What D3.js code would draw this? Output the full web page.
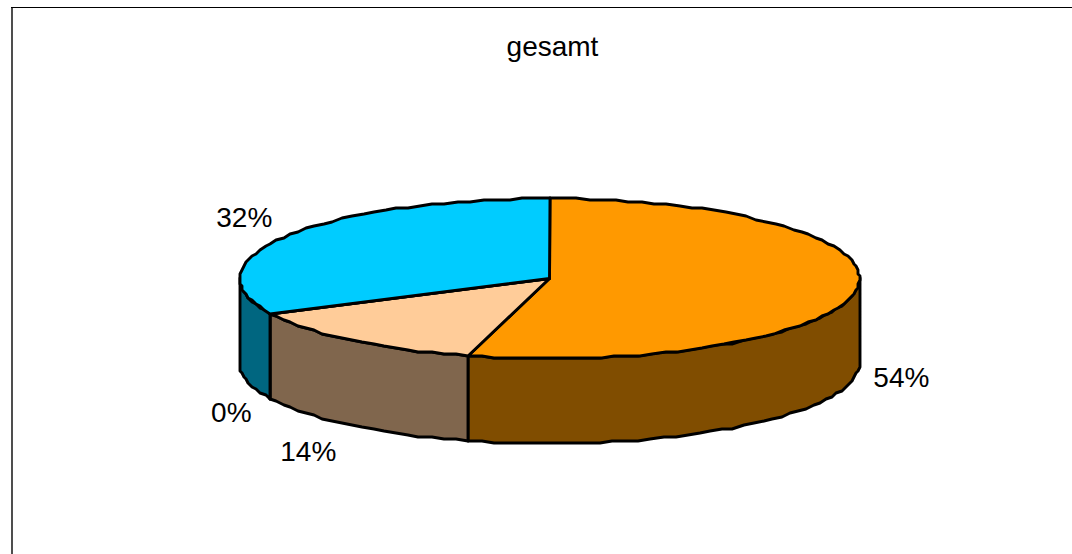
<!DOCTYPE html>
<html>
<head>
<meta charset="utf-8">
<script src="https://cdn.jsdelivr.net/npm/d3@7"></script>
<style>
  html, body { margin: 0; padding: 0; background: #fff; }
  svg { display: block; }
  text { font-family: "Liberation Sans", Arial, sans-serif; fill: #000; }
</style>
</head>
<body>
<svg id="chart" width="1072" height="554"></svg>
<script>
const title = "gesamt";
const categories = ["A", "B", "C", "D"];
const values = [54.2, 13.6, 0.04, 32.16];
const labels = ["54%", "14%", "0%", "32%"];
const colors = ["#FF9900", "#FFCC99", "#FFFFCC", "#00CCFF"];
// small hand nudges for the data labels (px)
const labelNudge = [[-3, -1], [-13, 0], [4, -1], [-2, 0]];

const WIDTH = 1072, HEIGHT = 554;
const CX = 549.5, CY = 278.5, RX = 310, RY = 80, DEPTH = 85;
const STEP = (2.5 * Math.PI) / 180;
const FONT_SIZE = 28;

const svg = d3.select("#chart");

// Chart frame: only top and left are inside the window
svg.append("line")
  .attr("x1", 12).attr("x2", 12).attr("y1", 7).attr("y2", HEIGHT)
  .attr("stroke", "#222").attr("stroke-width", 1.6);
svg.append("line")
  .attr("x1", 11).attr("x2", WIDTH).attr("y1", 7.5).attr("y2", 7.5)
  .attr("stroke", "#000").attr("stroke-width", 1);

// Unit circle -> flattened ellipse
const x = d3.scaleLinear().domain([-1, 1]).range([CX - RX, CX + RX]);
const y = d3.scaleLinear().domain([-1, 1]).range([CY + RY, CY - RY]);

const pie = d3.pie().sort(null).value((d) => d);
const slices = pie(values);

// Points along the rim; snapped, the original rim is coarse too
const snap = (v) => Math.round(v / 2) * 2;
const rim = (a0, a1, drop = 0) => {
  const n = Math.max(1, Math.ceil(Math.abs(a1 - a0) / STEP));
  return d3.range(n + 1).map((i) => {
    const a = a0 + ((a1 - a0) * i) / n;
    return [snap(x(Math.sin(a))), snap(y(Math.cos(a))) + drop];
  });
};
const line = d3.line().curve(d3.curveLinear);

const pieGroup = svg.append("g")
  .attr("stroke", "#000")
  .attr("stroke-width", 2.9)
  .attr("stroke-linejoin", "round");

// Side walls, only the part of a slice that faces the viewer
slices.forEach((s, i) => {
  const a0 = Math.max(s.startAngle, Math.PI / 2);
  const a1 = Math.min(s.endAngle, (3 * Math.PI) / 2);
  if (a1 <= a0) return;
  const top = rim(a0, a1);
  const bottom = rim(a1, a0, DEPTH);
  const c = d3.rgb(colors[i]);
  pieGroup.append("path")
    .attr("d", line(top.concat(bottom)) + "Z")
    .attr("fill", d3.rgb(c.r / 2, c.g / 2, c.b / 2));
});

// Top faces
slices.forEach((s, i) => {
  pieGroup.append("path")
    .attr("d", line([[x(0), y(0)], ...rim(s.startAngle, s.endAngle)]) + "Z")
    .attr("fill", colors[i]);
});

// Data labels, placed around the pie from each slice's middle angle
const LABEL_RX = 358, LABEL_RY = 114;
svg.append("g")
  .selectAll("text")
  .data(slices)
  .join("text")
  .attr("text-anchor", "middle")
  .attr("dominant-baseline", "central")
  .attr("font-size", FONT_SIZE)
  .attr("x", (d, i) => CX + LABEL_RX * Math.sin((d.startAngle + d.endAngle) / 2) + labelNudge[i][0])
  .attr("y", (d, i) => {
    const mid = (d.startAngle + d.endAngle) / 2;
    return CY - LABEL_RY * Math.cos(mid) + (Math.cos(mid) < 0 ? DEPTH : 0) + labelNudge[i][1];
  })
  .text((d, i) => labels[i]);

svg.append("text")
  .attr("x", 552.5)
  .attr("y", 56)
  .attr("text-anchor", "middle")
  .attr("font-size", FONT_SIZE)
  .text(title);
</script>
</body>
</html>
